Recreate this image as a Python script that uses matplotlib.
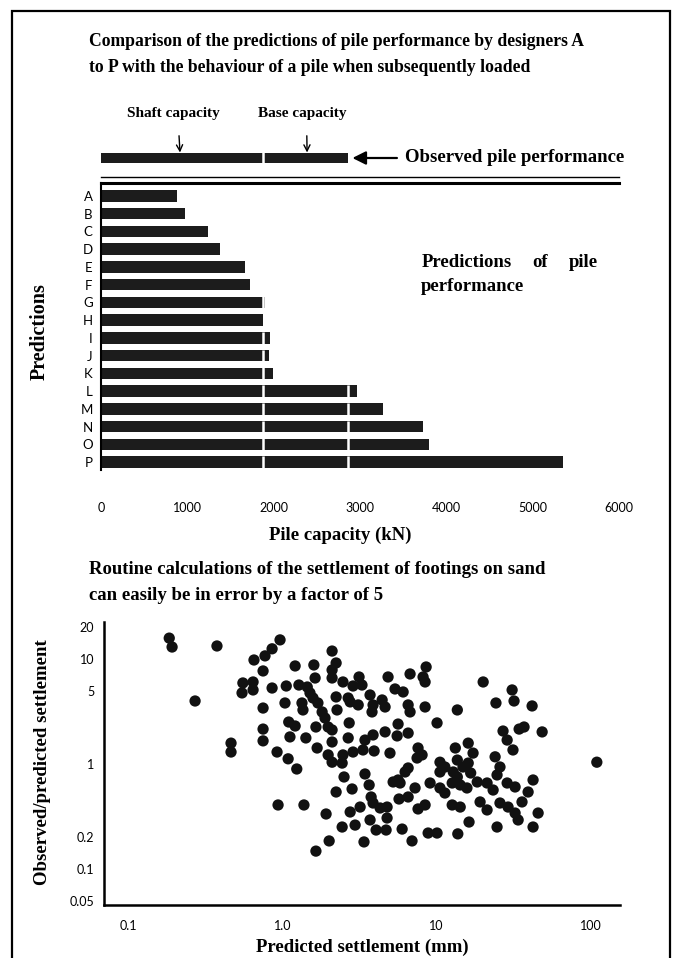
import numpy as np
import matplotlib.pyplot as plt
from matplotlib.patches import Rectangle

# pile capacity predictions (kN) by designers A-P
designers = list('ABCDEFGHIJKLMNOP')
predicted_capacity = [880, 975, 1240, 1380, 1670, 1730, 1900, 1880,
                      1960, 1950, 1990, 2970, 3270, 3730, 3800, 5350]
observed_shaft = 1880
observed_total = 2860
capacity_ticks = [0, 1000, 2000, 3000, 4000, 5000, 6000]

# footing settlements: (predicted settlement mm, observed/predicted)
settlement_points = [
    (0.185, 15.8), (0.193, 13.0), (0.377, 13.3), (0.272, 3.98), (0.966, 15.2), (0.858, 12.5),
    (0.772, 10.7), (0.655, 9.78), (0.750, 7.69), (2.10, 11.9), (2.23, 9.16), (2.10, 7.86),
    (2.10, 6.59), (1.60, 8.77), (1.63, 6.59), (1.21, 8.58), (0.555, 5.91), (0.646, 6.04),
    (0.548, 4.75), (0.646, 5.07), (0.858, 5.29), (1.06, 5.53), (1.28, 5.65), (1.45, 5.41),
    (1.51, 4.75), (1.58, 4.25), (1.70, 3.81), (1.81, 3.13), (1.89, 2.74), (1.98, 2.25),
    (2.23, 4.35), (2.26, 3.27), (0.750, 3.41), (1.04, 3.81), (1.34, 3.81), (1.36, 3.27),
    (1.10, 2.51), (1.21, 2.30), (1.65, 2.25), (0.750, 2.15), (0.750, 1.66), (1.12, 1.81),
    (1.42, 1.77), (2.10, 2.11), (2.10, 1.62), (0.465, 1.58), (0.465, 1.30), (0.924, 1.30),
    (1.09, 1.12), (1.24, 0.896), (1.68, 1.42), (1.98, 1.22), (2.10, 1.04),
    (2.47, 6.04), (2.87, 5.53), (3.14, 6.74), (3.28, 5.65), (3.70, 4.54), (4.84, 6.74),
    (5.37, 5.18), (6.06, 4.85), (6.72, 7.20), (8.16, 6.74), (8.54, 8.39), (8.41, 6.04),
    (8.41, 3.49), (6.53, 3.65), (6.72, 3.13), (4.43, 4.07), (4.63, 3.49), (3.87, 3.65),
    (3.81, 3.13), (3.10, 3.65), (2.67, 4.25), (2.75, 3.90), (2.71, 2.46), (5.62, 2.40),
    (6.53, 1.97), (4.63, 2.02), (3.87, 1.89), (3.43, 1.69), (2.67, 1.77), (2.47, 1.22),
    (2.87, 1.30), (3.33, 1.36), (3.93, 1.33), (4.98, 1.27), (5.54, 1.85), (7.57, 1.42),
    (8.04, 1.22), (7.46, 1.14), (10.05, 2.46), (13.6, 3.27), (20.0, 6.04), (24.2, 3.81),
    (30.8, 5.07), (31.7, 3.98), (41.5, 3.57), (26.9, 2.06), (34.2, 2.15), (36.8, 2.25),
    (48.2, 2.02), (28.6, 1.69), (31.2, 1.36), (23.9, 1.17), (25.7, 0.936), (13.2, 1.42),
    (16.0, 1.58), (17.2, 1.27), (16.0, 1.02), (13.6, 1.09), (10.5, 1.04), (11.3, 0.936),
    (6.53, 0.916), (2.44, 1.02), (109, 1.04),
    (0.938, 0.407), (1.38, 0.407), (1.92, 0.334), (1.65, 0.148), (2.01, 0.185), (2.23, 0.541),
    (2.83, 0.578), (2.51, 0.752), (3.43, 0.803), (2.75, 0.349), (3.19, 0.389), (3.65, 0.631),
    (3.76, 0.485), (3.87, 0.425), (3.70, 0.293), (2.44, 0.251), (2.96, 0.262), (3.38, 0.181),
    (4.05, 0.235), (4.70, 0.235), (4.77, 0.306), (4.77, 0.389), (4.30, 0.381), (5.22, 0.674),
    (5.79, 0.659), (5.70, 0.464), (6.53, 0.485), (7.24, 0.591), (5.97, 0.240), (6.92, 0.185),
    (7.57, 0.373), (8.41, 0.407), (8.80, 0.220), (10.05, 0.220), (9.06, 0.659), (10.5, 0.591),
    (11.3, 0.529), (12.6, 0.407), (14.2, 0.389), (13.7, 0.216), (16.2, 0.280), (12.6, 0.659),
    (14.2, 0.631), (15.7, 0.591), (18.3, 0.674), (21.2, 0.659), (19.1, 0.435), (21.2, 0.365),
    (24.6, 0.251), (23.2, 0.565), (25.7, 0.425), (28.6, 0.659), (32.2, 0.604), (29.0, 0.389),
    (32.2, 0.341), (33.7, 0.293), (35.7, 0.435), (39.1, 0.541), (42.1, 0.704), (45.4, 0.341),
    (42.1, 0.251), (24.6, 0.786), (10.5, 0.839), (12.8, 0.839), (6.24, 0.839), (14.8, 0.936),
    (13.6, 0.752), (16.6, 0.821), (5.62, 0.704),
]
settle_xticks = [0.1, 1, 10, 100]
settle_xlabels = ['0.1', '1.0', '10', '100']
settle_yticks = [0.05, 0.1, 0.2, 1, 5, 10, 20]
settle_ylabels = ['0.05', '0.1', '0.2', '1', '5', '10', '20']

W, H = 679, 958
SERIF = 'Liberation Serif'
SANS = 'Lato'
BAR = '#1c1c1c'
BIG = 13.5

def fx(px):
    return px / W

def fy(py):
    return 1 - py / H

fig = plt.figure(figsize=(W / 100, H / 100), dpi=100)

# outer frame
fig.add_artist(Rectangle((fx(12), -0.01), fx(670) - fx(12), fy(11) + 0.01,
                         transform=fig.transFigure, fill=False, lw=1.6, ec='black'))

def title(lines, y0, step, size):
    for i, line in enumerate(lines):
        fig.text(fx(89), fy(y0 + i * step), line, family=SERIF, weight='bold',
                 fontsize=size, ha='left', va='center')

title(['Comparison of the predictions of pile performance by designers A',
       'to P with the behaviour of a pile when subsequently loaded'], 42, 25, 12.7)

# ---- observed pile bar ----
ax_obs = fig.add_axes([fx(101), fy(177), fx(619) - fx(101), fy(95) - fy(177)])
ax_obs.set_xlim(0, 6000)
ax_obs.set_ylim(-1.9, 6.3)
ax_obs.barh(0, observed_total, height=1.05, color=BAR)
ax_obs.vlines(observed_shaft, -0.6, 0.6, color='white', lw=1.8)
for s in ['top', 'left', 'right']:
    ax_obs.spines[s].set_visible(False)
ax_obs.spines['bottom'].set_linewidth(1.0)
ax_obs.set_xticks([])
ax_obs.set_yticks([])
ax_obs.patch.set_alpha(0)

ax_obs.annotate('', xy=(observed_total + 20, 0), xytext=(3460, 0),
                arrowprops=dict(arrowstyle='-|>', color='black', lw=1.6, mutation_scale=20))
ax_obs.text(3520, 0, 'Observed pile performance', family=SERIF, weight='bold',
            fontsize=BIG, ha='left', va='center')
ax_obs.annotate('Shaft capacity', xy=(915, 0.55), xytext=(840, 4.4),
                family=SERIF, weight='bold', fontsize=11, ha='center', va='center',
                arrowprops=dict(arrowstyle='->', color='black', lw=1.0,
                                shrinkA=9, shrinkB=0, relpos=(0.55, 0)))
ax_obs.annotate('Base capacity', xy=(2387, 0.55), xytext=(2330, 4.4),
                family=SERIF, weight='bold', fontsize=11, ha='center', va='center',
                arrowprops=dict(arrowstyle='->', color='black', lw=1.0,
                                shrinkA=9, shrinkB=0, relpos=(0.55, 0)))

# ---- predictions bar chart ----
ax = fig.add_axes([fx(101), fy(470), fx(619) - fx(101), fy(183) - fy(470)])
ypos = np.arange(len(designers))
ax.barh(ypos, predicted_capacity, height=0.65, color=BAR)
for yi, v in zip(ypos, predicted_capacity):
    for cut in (observed_shaft, observed_total):
        if v > cut + 15:
            ax.vlines(cut, yi - 0.34, yi + 0.34, color='white', lw=1.8)
ax.set_xlim(0, 6000)
ax.set_ylim(15.45, -0.73)
ax.spines['right'].set_visible(False)
ax.spines['bottom'].set_visible(False)
ax.spines['top'].set_linewidth(2.2)
ax.spines['left'].set_linewidth(1.5)
ax.set_xticks(capacity_ticks)
ax.set_xticklabels([str(t) for t in capacity_ticks], family=SANS, fontsize=9)
ax.set_yticks(ypos)
ax.set_yticklabels(designers, family=SANS, fontsize=9.5)
ax.tick_params(axis='x', length=0, pad=23)
ax.tick_params(axis='y', length=0, pad=6)

ax.text((340 - 101) / 518, (470 - 535) / 287, 'Pile capacity (kN)', transform=ax.transAxes,
        family=SERIF, weight='bold', fontsize=BIG, ha='center', va='center')
ax.text((40 - 101) / 518, (470 - 332) / 287, 'Predictions', transform=ax.transAxes,
        family=SERIF, weight='bold', fontsize=14.5, ha='center', va='center', rotation=90)

ax.text(3710, 3.78, 'Predictions', family=SERIF, weight='bold', fontsize=BIG, ha='left', va='center')
ax.text(5090, 3.78, 'of', family=SERIF, weight='bold', fontsize=BIG, ha='center', va='center')
ax.text(5760, 3.78, 'pile', family=SERIF, weight='bold', fontsize=BIG, ha='right', va='center')
ax.text(3710, 5.08, 'performance', family=SERIF, weight='bold', fontsize=BIG, ha='left', va='center')

# ---- settlement scatter ----
title(['Routine calculations of the settlement of footings on sand',
       'can easily be in error by a factor of 5'], 570, 26, BIG)

pred_mm = [p[0] for p in settlement_points]
ratio = [p[1] for p in settlement_points]

ax2 = fig.add_axes([fx(104), fy(905), fx(620) - fx(104), fy(622) - fy(905)])
ax2.scatter(pred_mm, ratio, s=66, color='#111111', edgecolors='none')
ax2.set_xscale('log')
ax2.set_yscale('log')
ax2.set_xlim(0.0699, 154)
ax2.set_ylim(0.0454, 22.5)
ax2.set_xticks(settle_xticks)
ax2.set_xticklabels(settle_xlabels, family=SANS, fontsize=9)
ax2.set_yticks(settle_yticks)
ax2.set_yticklabels(settle_ylabels, family=SANS, fontsize=9)
ax2.minorticks_off()
ax2.tick_params(length=0)
ax2.tick_params(axis='x', pad=11)
ax2.tick_params(axis='y', pad=7)
ax2.spines['top'].set_visible(False)
ax2.spines['right'].set_visible(False)
ax2.spines['left'].set_linewidth(1.8)
ax2.spines['bottom'].set_linewidth(1.8)

ax2.text((362 - 104) / 516, (905 - 947) / 283, 'Predicted settlement (mm)', transform=ax2.transAxes,
         family=SERIF, weight='bold', fontsize=BIG, ha='center', va='center')
ax2.text((42 - 104) / 516, (905 - 762) / 283, 'Observed/predicted settlement', transform=ax2.transAxes,
         family=SERIF, weight='bold', fontsize=BIG, ha='center', va='center', rotation=90)

fig.savefig('out.png', dpi=100)
